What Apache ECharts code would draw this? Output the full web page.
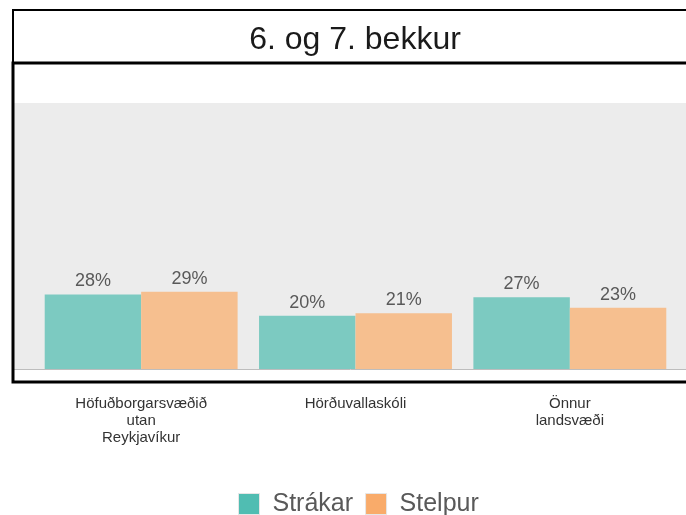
<!DOCTYPE html>
<html>
<head>
<meta charset="utf-8">
<script src="https://cdn.jsdelivr.net/npm/echarts@6/dist/echarts.min.js"></script>
<style>
  html, body { margin: 0; padding: 0; background: #fff; }
  #main { width: 686px; height: 515px; }
</style>
</head>
<body>
<div id="main"></div>
<script>
// svæði og hlutföll (%)
var categories = ['Höfuðborgarsvæðið\nutan\nReykjavíkur', 'Hörðuvallaskóli', 'Önnur\nlandsvæði'];
var strakar = [28, 20, 27];
var stelpur = [29, 21, 23];
var seriesNames = ['Strákar', 'Stelpur'];

var myChart = echarts.init(document.getElementById('main'));

var barLabel = {
    show: true,
    position: 'top',
    distance: 4,
    formatter: '{c}%',
    color: '#595959',
    fontSize: 18,
    fontFamily: 'Liberation Sans'
};

myChart.setOption({
    animation: false,
    title: {
        text: '6. og 7. bekkur',
        left: 350,
        top: 19,
        textAlign: 'center',
        textStyle: {
            color: '#1a1a1a',
            fontSize: 32,
            fontWeight: 'normal',
            fontFamily: 'Liberation Sans'
        }
    },
    legend: {
        top: 486,
        left: 233,
        icon: 'rect',
        itemWidth: 21,
        itemHeight: 21,
        itemGap: 12,
        textStyle: {
            color: '#595959',
            fontSize: 25,
            lineHeight: 26,
            padding: [0, 0, 0, 8],
            fontFamily: 'Liberation Sans'
        },
        data: [
            {name: seriesNames[0], itemStyle: {color: '#50bdb2', borderColor: '#e6e6e6', borderWidth: 1}},
            {name: seriesNames[1], itemStyle: {color: '#f9ab6a', borderColor: '#e6e6e6', borderWidth: 1}}
        ]
    },
    graphic: [
        {
            type: 'rect',
            z: -10,
            shape: {x: 14, y: 103, width: 680, height: 266},
            style: {fill: '#ececec'}
        },
        {
            type: 'line',
            z: 5,
            shape: {x1: 14, y1: 369.5, x2: 690, y2: 369.5},
            style: {stroke: '#bdbdbd', lineWidth: 1}
        },
        {
            type: 'rect',
            z: 6,
            shape: {x: 13, y: 10, width: 700, height: 53},
            style: {fill: null, stroke: '#000', lineWidth: 2}
        },
        {
            type: 'rect',
            z: 6,
            shape: {x: 13, y: 63, width: 700, height: 319},
            style: {fill: null, stroke: '#000', lineWidth: 3}
        }
    ],
    grid: {
        left: 34,
        right: 9,
        top: 103,
        bottom: 146
    },
    xAxis: {
        type: 'category',
        data: categories,
        axisLine: {show: false},
        axisTick: {show: false},
        axisLabel: {
            margin: 26,
            color: '#333',
            fontSize: 15,
            lineHeight: 17,
            fontFamily: 'Liberation Sans'
        }
    },
    yAxis: {
        type: 'value',
        min: 0,
        max: 100,
        show: false,
        splitLine: {show: false}
    },
    series: [
        {
            name: seriesNames[0],
            type: 'bar',
            data: strakar,
            barGap: '0%',
            barCategoryGap: '10%',
            itemStyle: {color: '#7ccac1'},
            label: barLabel
        },
        {
            name: seriesNames[1],
            type: 'bar',
            data: stelpur,
            barGap: '0%',
            barCategoryGap: '10%',
            itemStyle: {color: '#f6bf8f'},
            label: barLabel
        }
    ]
});
</script>
</body>
</html>
